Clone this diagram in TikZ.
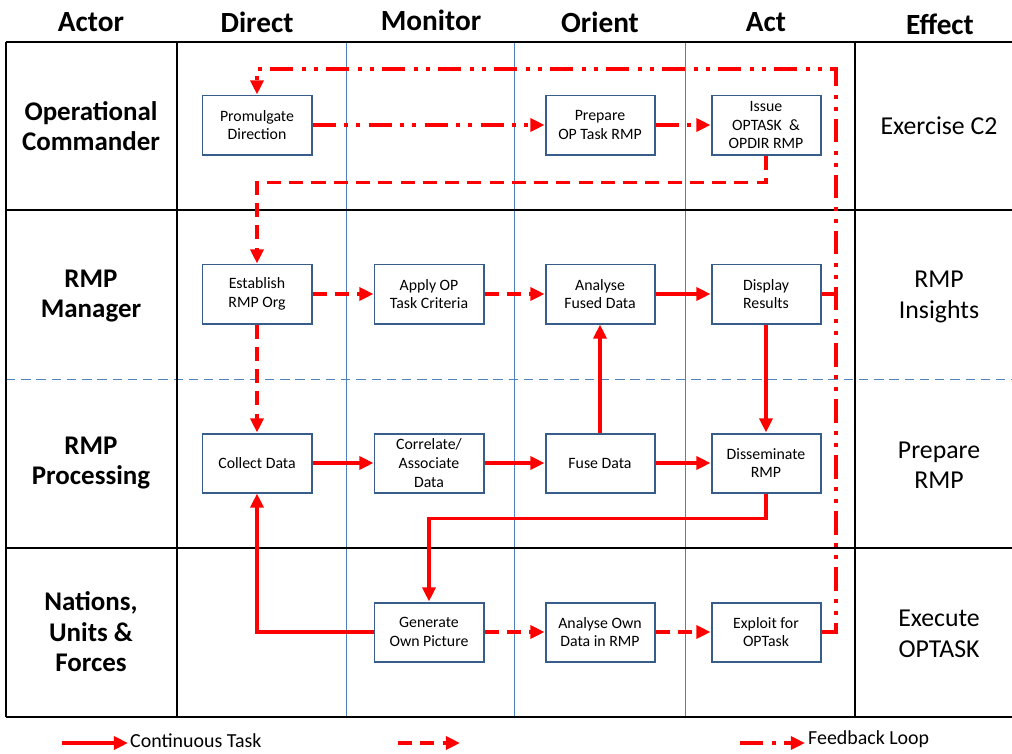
\documentclass[tikz,border=0pt]{standalone}
\usepackage{fontspec}
\setmainfont{Carlito}
\usetikzlibrary{arrows.meta}
\definecolor{boxblue}{RGB}{56,93,138}
\definecolor{laneblue}{RGB}{79,129,189}
\begin{document}
\begin{tikzpicture}[x=0.03cm, y=-0.03cm,
  task/.style = {draw=boxblue, line width=1.7pt, fill=white, minimum width=3.27cm, minimum height=1.77cm, align=center, inner sep=2pt, font=\fontsize{13.5}{16}\selectfont},
  cont/.style = {draw=red, line width=3.4pt, -{Triangle[length=12pt,width=11pt]}},
  plan/.style = {cont, dash pattern=on 12pt off 7pt},
  fb/.style = {cont, dash pattern=on 20pt off 7pt on 3.4pt off 7pt on 3.4pt off 7pt},
  lane/.style = {draw=laneblue, line width=0.8pt},
  grid/.style = {draw=black, line width=1.6pt},
  head/.style = {font=\bfseries\fontsize{25}{28}\selectfont},
  actor/.style = {align=center, font=\bfseries\fontsize{23}{26}\selectfont},
  effect/.style = {align=center, font=\fontsize{22}{26}\selectfont},
  legend/.style = {anchor=west, inner sep=0pt, font=\fontsize{17}{20}\selectfont}]
\useasboundingbox (0,0) rectangle (1012,753);

\draw[lane] (346,42) -- (346,717);
\draw[lane] (514,42) -- (514,717);
\draw[lane] (685,42) -- (685,717);
\draw[lane, dash pattern=on 8pt off 5pt] (6,379) -- (1012,379);
\draw[grid] (6,42) -- (1012,42);
\draw[grid] (6,210) -- (1012,210);
\draw[grid] (6,548) -- (1012,548);
\draw[grid] (6,717) -- (1012,717);
\draw[grid] (6,42) -- (6,717);
\draw[grid] (177,42) -- (177,717);
\draw[grid] (855,42) -- (855,717);

\node[head] (h1) at (91,22) {Actor};
\node[head] (h2) at (257,22) {Direct};
\node[head] (h3) at (431,20) {Monitor};
\node[head] (h4) at (600,22) {Orient};
\node[head] (h5) at (766,22) {Act};
\node[head] (h6) at (940,24) {Effect};

\node[actor] (a1) at (91,126) {Operational\\Commander};
\node[actor] (a2) at (91,296) {RMP\\Manager};
\node[actor] (a3) at (91,463) {RMP\\Processing};
\node[actor] (a4) at (91,632) {Nations,\\Units \&\\Forces};

\node[effect] (e1) at (939,126) {Exercise C2};
\node[effect] (e2) at (939,297) {RMP\\Insights};
\node[effect] (e3) at (939,465) {Prepare\\RMP};
\node[effect] (e4) at (939,634) {Execute\\OPTASK};

\node[task] (pd) at (257,125) {Promulgate\\Direction};
\node[task] (pt) at (600,125) {Prepare\\OP Task RMP};
\node[task] (io) at (766,125) {Issue\\OPTASK \ \&\\OPDIR RMP};
\node[task] (er) at (257,294) {Establish\\RMP Org};
\node[task] (ap) at (429,294) {Apply OP\\Task Criteria};
\node[task] (af) at (600,294) {Analyse\\Fused Data};
\node[task] (dr) at (766,294) {Display\\Results};
\node[task] (cd) at (257,463) {Collect Data};
\node[task] (ca) at (429,463) {Correlate/\\Associate\\Data};
\node[task] (fd) at (600,463) {Fuse Data};
\node[task] (dm) at (766,463) {Disseminate\\RMP};
\node[task] (gp) at (429,632) {Generate\\Own Picture};
\node[task] (ao) at (600,632) {Analyse Own\\Data in RMP};
\node[task] (ex) at (766,632) {Exploit for\\OPTask};

\coordinate (fbtop) at (836,69);
\coordinate (fbjoin) at (836,294);

\draw[cont] (cd) -- (ca);
\draw[cont] (ca) -- (fd);
\draw[cont] (fd) -- (dm);
\draw[cont] (fd) -- (af);
\draw[cont] (af) -- (dr);
\draw[cont] (dr) -- (dm);
\draw[cont] (dm.south) -- ++(0,25) -| (gp.north);
\draw[cont] (gp.west) -| (cd.south);
\draw[plan] (er) -- (ap);
\draw[plan] (ap) -- (af);
\draw[plan] (er) -- (cd);
\draw[plan] (gp) -- (ao);
\draw[plan] (ao) -- (ex);
\draw[plan] (io.south) -- ++(0,27) -| (er.north);
\draw[fb] (pd) -- (pt);
\draw[fb] (pt) -- (io);
\draw[fb] (ex.east) -| (fbtop) -| (pd.north);
\draw[red, line width=3.4pt] (dr.east) -- (fbjoin);

\coordinate (l1a) at (62,743);
\coordinate (l1b) at (128,743);
\coordinate (l2a) at (398,743);
\coordinate (l2b) at (460,743);
\coordinate (l3a) at (740,743);
\coordinate (l3b) at (805,743);
\draw[cont] (l1a) -- (l1b);
\draw[plan] (l2a) -- (l2b);
\draw[fb, dash pattern=on 20pt off 7pt on 3.4pt off 7pt] (l3a) -- (l3b);
\node[legend] (t1) at (130,741) {Continuous Task};
\node[legend] (t3) at (808,739) {Feedback Loop};
\end{tikzpicture}
\end{document}
